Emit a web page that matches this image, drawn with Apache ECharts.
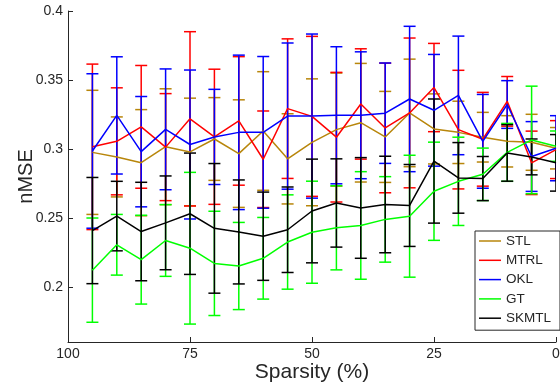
<!DOCTYPE html>
<html>
<head>
<meta charset="utf-8">
<script src="https://cdn.jsdelivr.net/npm/echarts@6/dist/echarts.min.js"></script>
<style>
  html, body { margin: 0; padding: 0; background: #fff; }
  #chart { width: 560px; height: 387px; }
</style>
</head>
<body>
<div id="chart"></div>
<script>
// sparsity levels (%), x axis runs from 100 down to 0
const sparsity = [95, 90, 85, 80, 75, 70, 65, 60, 55, 50, 45, 40, 35, 30, 25, 20, 15, 10, 5, 0];

// mean nMSE per method
const stlMean = [0.2975, 0.2942, 0.290, 0.3016, 0.2978, 0.3072, 0.2966, 0.313, 0.2928, 0.3048, 0.314, 0.319, 0.3087, 0.3261, 0.3145, 0.312, 0.3085, 0.3055, 0.3048, 0.3005];
const mtrlMean = [0.3015, 0.3055, 0.316, 0.3013, 0.3218, 0.3088, 0.3203, 0.2925, 0.3292, 0.3236, 0.3085, 0.3326, 0.3152, 0.3261, 0.3445, 0.314, 0.307, 0.3345, 0.2899, 0.2995];
const oklMean = [0.2985, 0.3243, 0.298, 0.3142, 0.3032, 0.3087, 0.312, 0.312, 0.3238, 0.3238, 0.3244, 0.3244, 0.3259, 0.3362, 0.328, 0.3388, 0.3055, 0.3322, 0.2945, 0.3005];
const gtMean = [0.2121, 0.2305, 0.2197, 0.2336, 0.228, 0.217, 0.2151, 0.2207, 0.2325, 0.2396, 0.2428, 0.2445, 0.2489, 0.2512, 0.2693, 0.2765, 0.2816, 0.2975, 0.3065, 0.302];
const skmtlMean = [0.2408, 0.2513, 0.2401, 0.2464, 0.253, 0.2424, 0.2398, 0.2367, 0.2414, 0.255, 0.2608, 0.2572, 0.2597, 0.259, 0.2912, 0.279, 0.2785, 0.2971, 0.2942, 0.2899];

// error bar half-lengths
const stlErr = [0.045, 0.029, 0.0385, 0.042, 0.039, 0.030, 0.039, 0.043, 0.0327, 0.046, 0.041, 0.043, 0.033, 0.039, 0.0254, 0.0226, 0.018, 0.0186, 0.0203, 0.015];
const mtrlErr = [0.060, 0.0388, 0.0445, 0.0388, 0.0632, 0.049, 0.0466, 0.035, 0.0506, 0.058, 0.047, 0.040, 0.047, 0.0543, 0.032, 0.043, 0.034, 0.018, 0.023, 0.021];
const oklErr = [0.056, 0.0425, 0.040, 0.0438, 0.054, 0.0345, 0.056, 0.055, 0.053, 0.0595, 0.0497, 0.046, 0.0364, 0.0527, 0.0405, 0.043, 0.034, 0.0173, 0.0253, 0.0236];
const gtErr = [0.0378, 0.022, 0.0322, 0.026, 0.055, 0.0378, 0.0316, 0.0296, 0.0342, 0.037, 0.0305, 0.039, 0.031, 0.0442, 0.0356, 0.032, 0.019, 0.021, 0.039, 0.011];
const skmtlErr = [0.0385, 0.0252, 0.0357, 0.034, 0.044, 0.047, 0.0377, 0.032, 0.031, 0.0376, 0.032, 0.0365, 0.035, 0.0297, 0.045, 0.0256, 0.016, 0.0205, 0.013, 0.0205];

const yTicks = [0.2, 0.25, 0.3, 0.35, 0.4];

const methods = [
  { name: "STL", mean: stlMean, err: stlErr, color: "#b8860b" },
  { name: "MTRL", mean: mtrlMean, err: mtrlErr, color: "#ff0000" },
  { name: "OKL", mean: oklMean, err: oklErr, color: "#0000ff" },
  { name: "GT", mean: gtMean, err: gtErr, color: "#00ff00" },
  { name: "SKMTL", mean: skmtlMean, err: skmtlErr, color: "#000000" },
];

const font = "'Liberation Sans', Arial, sans-serif";
const axisColor = "#262626";

function errorBars(m) {
  return {
    type: "custom",
    name: m.name + "-err",
    clip: true,
    encode: { x: 0, y: [1, 2] },
    data: sparsity.map((s, i) => [s, m.mean[i] - m.err[i], m.mean[i] + m.err[i]]),
    renderItem: (params, api) => {
      const top = api.coord([api.value(0), api.value(2)]);
      const bot = api.coord([api.value(0), api.value(1)]);
      const half = 6;
      const style = { stroke: m.color, lineWidth: 1.5, fill: null };
      return {
        type: "group",
        children: [
          { type: "line", shape: { x1: top[0], y1: top[1], x2: bot[0], y2: bot[1] }, style },
          { type: "line", shape: { x1: top[0] - half, y1: top[1], x2: top[0] + half, y2: top[1] }, style },
          { type: "line", shape: { x1: bot[0] - half, y1: bot[1], x2: bot[0] + half, y2: bot[1] }, style },
        ],
      };
    },
  };
}

const series = [];
methods.forEach((m) => {
  series.push(errorBars(m));
  series.push({
    type: "line",
    name: m.name,
    data: sparsity.map((s, i) => [s, m.mean[i]]),
    symbol: "none",
    color: m.color,
    lineStyle: { color: m.color, width: 1.5 },
  });
});

const chart = echarts.init(document.getElementById("chart"));
chart.setOption({
  animation: false,
  textStyle: { fontFamily: font },
  grid: { left: 68, right: 4, top: 11, bottom: 45, outerBoundsMode: "none", containLabel: false },
  xAxis: {
    type: "value",
    inverse: true,
    min: 0,
    max: 100,
    interval: 25,
    name: "Sparsity (%)",
    nameLocation: "middle",
    nameGap: 20,
    nameMoveOverlap: false,
    nameTextStyle: { fontSize: 21, color: axisColor, fontFamily: font },
    axisLine: { onZero: false, lineStyle: { color: axisColor, width: 1 } },
    axisTick: { inside: true, length: 5, lineStyle: { color: axisColor } },
    axisLabel: { fontSize: 14, color: axisColor, margin: 5, fontFamily: font },
    splitLine: { show: false },
  },
  yAxis: {
    type: "value",
    min: 0.16,
    max: 0.4,
    name: "nMSE",
    nameLocation: "middle",
    nameGap: 32,
    nameMoveOverlap: false,
    nameTextStyle: { fontSize: 20, color: axisColor, fontFamily: font },
    axisLine: { show: true, onZero: false, lineStyle: { color: axisColor, width: 1 } },
    axisTick: { inside: true, length: 5, customValues: yTicks, lineStyle: { color: axisColor } },
    axisLabel: { fontSize: 14, color: axisColor, margin: 5, customValues: yTicks, fontFamily: font },
    splitLine: { show: false },
  },
  legend: {
    data: methods.map((m) => ({ name: m.name, icon: "rect", itemStyle: { color: m.color } })),
    orient: "vertical",
    left: 475,
    top: 231,
    itemWidth: 22,
    itemHeight: 1.5,
    itemGap: 5.3,
    padding: [3, 9, 5, 4],
    backgroundColor: "#fff",
    borderColor: axisColor,
    borderWidth: 1,
    borderRadius: 0,
    selectedMode: false,
    textStyle: { fontSize: 13.5, color: axisColor, fontFamily: font },
  },
  series,
});

window.addEventListener("resize", () => chart.resize());
</script>
</body>
</html>
